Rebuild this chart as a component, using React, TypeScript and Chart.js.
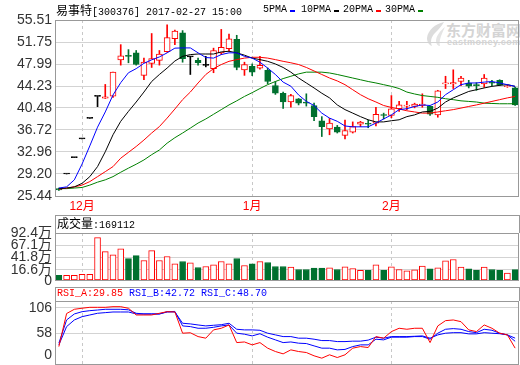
import React, { useEffect, useRef } from "react";
import { Chart, registerables } from "chart.js";
Chart.register(...registerables);

// ---------- data ----------
const monthIndex = [3, 25, 43];
const monthNames = ["12月", "1月", "2月"];

const opens = [26.7, 29.2, 32.0, 35.2, 38.7, 42.45, 42.15, 42.5, 48.7, 49.4, 49.9, 46.05, 48.1, 48.6, 50.1, 52.3, 53.3, 49.2, 48.6, 47.76, 47.2, 49.9, 50.6, 52.2, 47.0, 47.6, 47.3, 46.9, 44.3, 43.0, 41.5, 42.06, 41.4, 40.9, 38.3, 36.9, 37.2, 35.8, 36.35, 37.7, 37.8, 37.9, 39.3, 39.2, 40.35, 40.8, 40.74, 40.9, 40.74, 39.3, 44.6, 44.6, 45.0, 44.75, 44.4, 44.6, 44.9, 45.2, 44.1, 43.9];
const highs = [26.8, 29.2, 32.0, 35.2, 38.7, 42.45, 44.5, 46.6, 51.3, 50.45, 50.3, 49.0, 53.2, 50.3, 54.7, 53.8, 53.7, 49.3, 49.0, 49.3, 50.7, 53.9, 53.1, 52.9, 48.3, 48.0, 49.3, 47.3, 45.0, 43.2, 42.8, 42.1, 42.9, 41.3, 39.0, 38.7, 37.5, 38.4, 38.1, 38.2, 38.4, 40.6, 39.6, 42.6, 41.6, 41.6, 41.3, 42.9, 40.8, 43.5, 45.9, 47.0, 45.9, 45.2, 44.8, 46.2, 45.2, 45.3, 44.4, 44.0];
const lows = [26.4, 29.2, 32.0, 35.2, 38.7, 40.7, 42.1, 42.3, 47.8, 48.2, 47.8, 45.3, 47.4, 47.8, 50.0, 51.3, 48.3, 46.2, 47.8, 47.5, 46.5, 49.6, 50.2, 47.0, 46.05, 46.0, 47.1, 44.6, 42.8, 40.4, 40.6, 41.0, 40.8, 38.3, 35.6, 35.9, 36.2, 35.2, 36.2, 37.3, 37.1, 37.4, 38.6, 38.8, 39.9, 40.2, 40.5, 40.6, 39.2, 38.9, 43.8, 43.8, 44.3, 43.9, 43.5, 44.0, 44.3, 44.3, 44.0, 40.9];
const closes = [26.5, 29.2, 32.0, 35.2, 38.7, 42.45, 42.4, 46.6, 49.4, 49.3, 47.9, 48.3, 48.9, 49.7, 52.5, 53.6, 48.9, 49.2, 48.2, 47.76, 50.3, 50.85, 52.3, 47.4, 47.9, 46.6, 47.76, 45.0, 43.0, 41.5, 42.6, 41.3, 41.3, 39.0, 37.3, 37.9, 36.35, 36.6, 37.3, 38.06, 37.7, 39.4, 39.2, 40.35, 41.0, 40.9, 41.15, 41.15, 39.4, 43.4, 44.75, 44.8, 45.6, 44.2, 44.3, 45.6, 44.7, 44.45, 44.2, 41.0];

const ma5 = [26.8, 27.0, 28.2, 30.9, 34.0, 37.2, 39.8, 42.7, 44.8, 46.5, 47.2, 48.1, 48.7, 49.2, 49.9, 50.7, 50.74, 50.74, 49.9, 49.1, 49.0, 49.6, 49.9, 49.9, 49.3, 49.0, 48.3, 47.3, 46.2, 44.9, 44.2, 42.7, 41.6, 40.9, 39.6, 38.75, 38.2, 37.4, 37.26, 37.26, 37.26, 37.9, 38.6, 39.3, 40.2, 40.35, 40.74, 41.0, 40.9, 41.5, 42.75, 43.6, 44.46, 44.75, 44.75, 44.9, 45.0, 44.75, 44.46, 44.17];
const ma10 = [26.7, 26.8, 27.0, 27.6, 28.75, 30.46, 33.0, 35.9, 38.2, 39.9, 41.5, 43.2, 45.0, 46.2, 47.3, 48.5, 49.3, 49.6, 49.7, 49.7, 49.7, 50.06, 50.17, 49.9, 49.5, 49.0, 48.74, 48.45, 48.0, 47.4, 46.6, 45.6, 44.75, 43.9, 43.0, 42.2, 41.0, 40.2, 39.6, 39.0, 38.46, 38.1, 38.1, 38.3, 38.46, 39.0, 39.3, 39.8, 39.9, 40.46, 41.5, 42.2, 42.75, 43.3, 43.6, 43.9, 44.17, 44.35, 44.46, 44.17];
const ma20 = [26.6, 26.8, 27.0, 27.3, 27.9, 28.75, 29.6, 30.46, 31.9, 32.9, 33.9, 35.0, 36.2, 37.3, 38.75, 40.3, 41.9, 43.2, 44.75, 46.2, 47.2, 47.9, 48.45, 48.74, 49.0, 49.14, 49.14, 49.0, 48.74, 48.45, 48.2, 47.9, 47.4, 46.8, 46.2, 45.6, 45.1, 44.46, 43.6, 42.75, 42.06, 41.5, 40.9, 40.57, 40.3, 40.0, 39.8, 39.6, 39.6, 39.8, 40.0, 40.2, 40.46, 40.74, 41.0, 41.3, 41.6, 41.9, 42.2, 42.45];
const ma30 = [26.7, 26.7, 26.8, 26.9, 27.3, 27.8, 28.2, 28.75, 29.5, 30.2, 30.87, 31.6, 32.5, 33.3, 34.47, 35.4, 36.2, 37.04, 37.9, 38.6, 39.4, 40.2, 41.0, 41.7, 42.45, 43.1, 43.8, 44.46, 45.0, 45.5, 45.9, 46.3, 46.6, 46.6, 46.6, 46.46, 46.2, 45.9, 45.6, 45.3, 45.0, 44.75, 44.46, 44.17, 43.8, 43.2, 42.87, 42.6, 42.45, 42.3, 42.06, 41.9, 41.7, 41.6, 41.5, 41.3, 41.25, 41.2, 41.2, 41.2];

const volumes = [4.9, 4.9, 4.9, 7.0, 7.0, 82.8, 54.1, 47.3, 59.6, 39.8, 45.9, 35.7, 56.1, 35.7, 43.9, 28.9, 33.6, 30.9, 21.3, 23.4, 26.8, 33.6, 28.9, 39.8, 25.4, 28.9, 33.6, 31.6, 23.4, 23.4, 21.9, 17.2, 17.2, 19.9, 19.9, 20.7, 17.2, 22.7, 19.3, 15.2, 15.2, 26.8, 15.2, 22.7, 17.2, 14.5, 16.6, 24.0, 18.6, 20.7, 35.0, 37.7, 21.9, 18.6, 15.2, 21.9, 17.2, 15.2, 9.6, 16.9];

const rsiA = [32.8, 95, 103, 105, 106.7, 106.7, 106.7, 107.9, 107.9, 104.9, 92.3, 92.3, 92.3, 95.5, 98.5, 98, 58, 58.8, 51.6, 48.6, 64.2, 67.3, 73.5, 40.3, 41.5, 36, 40.3, 29.8, 23.5, 19.1, 26.6, 23.5, 21.6, 15.4, 11, 17.3, 12.2, 17.3, 29.8, 32.8, 31, 51.6, 48.6, 61, 67.3, 65.4, 67.3, 67.3, 40.3, 71.7, 81.6, 82.9, 79.7, 64.2, 61, 73.5, 67.3, 58, 54.8, 29.85];
const rsiB = [39.2, 82.9, 94.2, 98.5, 100.4, 101.6, 103, 103, 103, 102, 95.5, 94.2, 94.2, 94.2, 98.5, 99, 71.7, 70.4, 67.3, 67.3, 69.1, 71.7, 73.5, 58, 56.1, 52.9, 57, 50.5, 45.4, 40.3, 41.5, 39.2, 38.5, 34.1, 29.8, 29.8, 26.6, 27.5, 32.8, 36, 36, 46.7, 45.4, 50.5, 50.5, 50.5, 51.6, 51.6, 46.7, 58, 65.4, 66.6, 65.4, 61, 59, 65.4, 63.5, 58, 54.8, 42.72];
const rsiC = [36, 70.4, 82.9, 89.1, 92.3, 95.5, 96.7, 97.9, 97.9, 97.9, 94.2, 94.2, 94.2, 94.2, 97.9, 98, 76.7, 75.5, 73.5, 71.7, 72.9, 74, 76.7, 65.4, 64.2, 64.2, 63.5, 58, 54.8, 51.6, 51.6, 48.6, 48.6, 46.7, 44.1, 44.1, 42.2, 42.2, 43, 43, 45, 50.5, 48.6, 51.6, 51.6, 51.6, 52.2, 52.9, 48.6, 54.8, 58, 59, 59, 56.7, 56.7, 59, 58, 57, 54.8, 48.7];

const priceTicks = [25.44, 29.20, 32.96, 36.72, 40.48, 44.23, 47.99, 51.75, 55.51];
const volTicks = [16.6, 41.8, 67.1, 92.4];
const volZeroLabel = "0";
const rsiTicks = [0, 58, 106];

const titleText = ["易事特", "[300376] 2017-02-27 15:00"];
const maNames = ["5PMA", "10PMA", "20PMA", "30PMA"];
const volumeTitle = ["成交量", ":169112"];
const rsiNames = ["RSI_A:29.85", "RSI_B:42.72", "RSI_C:48.70"];

// ---------- styles ----------
const RED = "#ff0000";
const GREEN = "#00702f";
const BLUE = "#0000ff";
const MA_COLORS = [BLUE, "#000000", RED, "#008000"];
const GRID = "#d3d3d3";
const FRAME = "#999999";
const NARROW = "'Liberation Sans Narrow', 'Arial Narrow', Arial, 'Noto Sans CJK SC', sans-serif";
const MONO = "'Liberation Mono', 'DejaVu Sans Mono', monospace";
const CJK = "'Noto Sans CJK SC', sans-serif";

const days = closes.map((_, i) => i);
const monthLabel = (i: number) => {
  const k = monthIndex.indexOf(i);
  return k >= 0 ? monthNames[k] : "";
};
const candleColor = (i: number) =>
  closes[i] > opens[i] ? RED : closes[i] < opens[i] ? GREEN : "#000000";
const volUp = (i: number) => closes[i] >= opens[i];

// visual floor of the volume panel (the panel's "0" sits a little below the true zero)
const VOL_MIN = -4.5;

const framePlugin = {
  id: "frame",
  afterDraw(chart: any) {
    const { ctx, chartArea } = chart;
    const { left, top, right, bottom } = chartArea;
    ctx.save();
    ctx.strokeStyle = FRAME;
    ctx.lineWidth = 1;
    ctx.strokeRect(Math.round(left) + 0.5, Math.round(top) + 0.5, Math.round(right - left) - 1, Math.round(bottom - top));
    ctx.restore();
  },
};

function xScale(showLabels: boolean) {
  return {
    offset: true,
    grid: {
      offset: false,
      drawTicks: false,
      lineWidth: 1,
      color: (ctx: any) => (monthLabel(ctx.index) ? "#c8c8c8" : "rgba(0,0,0,0)"),
    },
    border: { display: false, dash: [3, 3] },
    ticks: {
      display: showLabels,
      autoSkip: false,
      maxRotation: 0,
      padding: 3,
      color: RED,
      font: { size: 12, family: NARROW },
      callback: (_v: any, i: number) => monthLabel(i),
    },
    afterFit: (s: any) => {
      s.height = showLabels ? 19 : 0;
      s.paddingLeft = 0;
      s.paddingRight = 0;
    },
  };
}

function yCommon(extra: any) {
  return {
    grid: { color: GRID, drawTicks: false, lineWidth: 1 },
    border: { display: false },
    afterFit: (s: any) => {
      s.width = 55;
      s.paddingTop = 0;
      s.paddingBottom = 0;
    },
    ...extra,
  };
}

const baseOptions = {
  responsive: false,
  animation: false as const,
  events: [] as any[],
  plugins: { legend: { display: false }, tooltip: { enabled: false } },
};

const yTickStyle = {
  padding: 3,
  autoSkip: false,
  color: "#333333",
  font: { size: 14, family: NARROW },
};

function mainConfig(): any {
  const lineDs = [ma5, ma10, ma20, ma30].map((d, k) => ({
    type: "line",
    label: maNames[k],
    data: d,
    borderColor: MA_COLORS[k],
    borderWidth: 1,
    pointRadius: 0,
    tension: 0,
    fill: false,
    order: 1,
  }));
  return {
    type: "bar",
    data: {
      labels: days,
      datasets: [
        ...lineDs,
        {
          type: "bar",
          label: "body",
          data: opens.map((o, i) => [o, closes[i]]),
          backgroundColor: opens.map((_, i) => (closes[i] > opens[i] ? "#ffffff" : candleColor(i))),
          borderColor: opens.map((_, i) => candleColor(i)),
          borderWidth: 1,
          borderSkipped: false,
          barThickness: 6,
          minBarLength: 1,
          grouped: false,
          order: 5,
        },
        {
          type: "bar",
          label: "wick",
          data: lows.map((l, i) => [l, highs[i]]),
          backgroundColor: lows.map((_, i) => candleColor(i)),
          barThickness: 1,
          grouped: false,
          order: 6,
        },
      ],
    },
    options: {
      ...baseOptions,
      layout: { padding: { top: 20, right: 1, left: 0, bottom: 0 } },
      scales: {
        x: xScale(true),
        y: yCommon({
          min: priceTicks[0],
          max: priceTicks[priceTicks.length - 1],
          afterBuildTicks: (s: any) => {
            s.ticks = priceTicks.map((v) => ({ value: v }));
          },
          ticks: { ...yTickStyle, callback: (v: any) => Number(v).toFixed(2) },
        }),
      },
    },
    plugins: [framePlugin],
  };
}

function volConfig(): any {
  return {
    type: "bar",
    data: {
      labels: days,
      datasets: [
        {
          label: "volume",
          data: volumes,
          base: VOL_MIN,
          backgroundColor: volumes.map((_, i) => (volUp(i) ? "#ffffff" : GREEN)),
          borderColor: volumes.map((_, i) => (volUp(i) ? RED : GREEN)),
          borderWidth: 1,
          borderSkipped: false,
          barThickness: 6,
        },
      ],
    },
    options: {
      ...baseOptions,
      layout: { padding: { top: 18, right: 1, left: 0, bottom: 20 } },
      scales: {
        x: xScale(false),
        y: yCommon({
          min: VOL_MIN,
          max: volTicks[volTicks.length - 1],
          beginAtZero: false,
          afterBuildTicks: (s: any) => {
            s.ticks = volTicks.map((v) => ({ value: v }));
          },
          ticks: {
            ...yTickStyle,
            callback: (v: any) => Number(v).toFixed(1) + "万",
          },
        }),
      },
    },
    plugins: [framePlugin],
  };
}

function rsiConfig(): any {
  const mk = (label: string, data: number[], color: string, order: number) => ({
    type: "line",
    label,
    data,
    borderColor: color,
    borderWidth: 1,
    pointRadius: 0,
    tension: 0,
    fill: false,
    order,
  });
  return {
    type: "line",
    data: {
      labels: days,
      datasets: [mk("RSI_C", rsiC, BLUE, 3), mk("RSI_B", rsiB, BLUE, 2), mk("RSI_A", rsiA, RED, 1)],
    },
    options: {
      ...baseOptions,
      layout: { padding: { top: 14, right: 1, left: 0, bottom: 1 } },
      scales: {
        x: xScale(false),
        y: yCommon({
          min: 0,
          max: 118.6,
          afterBuildTicks: (s: any) => {
            s.ticks = rsiTicks.map((v) => ({ value: v }));
          },
          ticks: {
            ...yTickStyle,
            callback: (v: any) => (Number(v) === 0 ? ["0", ""] : String(v)),
          },
        }),
      },
    },
    plugins: [framePlugin],
  };
}

function ChartCanvas({ top, height, make }: { top: number; height: number; make: () => any }) {
  const ref = useRef<HTMLCanvasElement>(null);
  useEffect(() => {
    const chart = new Chart(ref.current as HTMLCanvasElement, make());
    return () => chart.destroy();
  }, []);
  return (
    <canvas
      ref={ref}
      width={520}
      height={height}
      style={{ position: "absolute", left: 0, top, width: 520, height, display: "block" }}
    />
  );
}

const abs = (left: number, top: number, extra: any = {}) => ({
  position: "absolute" as const,
  left,
  top,
  whiteSpace: "pre" as const,
  lineHeight: "14px",
  ...extra,
});

export default function App() {
  const legendX = [263, 301, 343, 385];
  return (
    <div
      style={{
        position: "fixed",
        left: 0,
        top: 0,
        width: 520,
        height: 365,
        background: "#ffffff",
        overflow: "hidden",
        color: "#000",
      }}
    >
      {/* watermark (behind the charts) */}
      <svg style={{ position: "absolute", left: 424, top: 21 }} width={22} height={26} viewBox="0 0 22 26">
        <path d="M20 1 C11 3 4 9 3 17 C3 21 5 24 8 25 C6 21 7 16 11 12 C14 9 17 6 20 1 Z" fill="#dcdcdc" />
        <path d="M21 6 C16 10 12 15 12 20 C12 23 14 25 16 25 C15 21 16 16 21 6 Z" fill="#e4e4e4" />
      </svg>
      <div style={abs(446, 21, { fontFamily: CJK, fontSize: 15, fontWeight: 700, color: "#d4d4d4", lineHeight: "18px" })}>
        东方财富网
      </div>
      <div style={abs(447, 38, { fontFamily: "Arial, sans-serif", fontSize: 9, fontWeight: 700, color: "#d4d4d4", lineHeight: "9px", letterSpacing: "0.5px" })}>
        eastmoney.com
      </div>

      <ChartCanvas top={0} height={215} make={mainConfig} />
      <ChartCanvas top={287} height={78} make={rsiConfig} />
      <ChartCanvas top={215} height={85} make={volConfig} />

      {/* volume axis floor label */}
      <div
        style={{
          position: "absolute",
          left: 0,
          top: 272,
          width: 52,
          textAlign: "right",
          fontFamily: NARROW,
          fontSize: 14,
          lineHeight: "16px",
          color: "#333333",
        }}
      >
        {volZeroLabel}
      </div>

      {/* title */}
      <div style={abs(56, 3)}>
        <span style={{ fontFamily: CJK, fontSize: 12 }}>{titleText[0]}</span>
        <span style={{ fontFamily: MONO, fontSize: 10 }}>{titleText[1]}</span>
      </div>

      {/* legend */}
      {maNames.map((n, k) => (
        <React.Fragment key={n}>
          <div style={abs(legendX[k], 3, { fontFamily: MONO, fontSize: 10 })}>{n}</div>
          <div
            style={{
              position: "absolute",
              left: legendX[k] + n.length * 6 + 3,
              top: 10,
              width: 5,
              height: 2,
              background: MA_COLORS[k],
            }}
          />
        </React.Fragment>
      ))}

      {/* volume header */}
      <div
        style={{
          position: "absolute",
          left: 55,
          top: 215,
          width: 465,
          height: 18,
          boxSizing: "border-box",
          borderTop: `1px solid ${FRAME}`,
          borderLeft: `1px solid ${FRAME}`,
          borderRight: `1px solid ${FRAME}`,
        }}
      />
      <div style={abs(57, 216)}>
        <span style={{ fontFamily: CJK, fontSize: 12 }}>{volumeTitle[0]}</span>
        <span style={{ fontFamily: MONO, fontSize: 10 }}>{volumeTitle[1]}</span>
      </div>

      {/* RSI header */}
      <div
        style={{
          position: "absolute",
          left: 55,
          top: 287,
          width: 465,
          height: 14,
          boxSizing: "border-box",
          borderTop: `1px solid ${FRAME}`,
          borderLeft: `1px solid ${FRAME}`,
          borderRight: `1px solid ${FRAME}`,
        }}
      />
      <div style={abs(57, 287, { fontFamily: MONO, fontSize: 10 })}>
        <span style={{ color: RED }}>{rsiNames[0]}</span>
        <span style={{ color: BLUE }}>{" " + rsiNames[1]}</span>
        <span style={{ color: BLUE }}>{" " + rsiNames[2]}</span>
      </div>
    </div>
  );
}
